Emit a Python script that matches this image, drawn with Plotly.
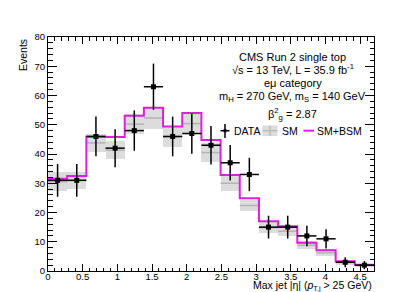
import numpy as np
import plotly.graph_objects as go

# ---- data ----
x_min, x_max, n_bins = 0.0, 4.7, 17
data = [31, 31, 46, 42, 48, 63, 46, 47, 43, 37, 33, 15, 15, 12, 11, 3, 2]
data_err = [5.6, 5.6, 6.8, 6.5, 6.9, 7.9, 6.8, 6.9, 6.6, 6.1, 5.7, 3.9, 3.9, 3.5, 3.3, 1.7, 1.4]
sm = [30.5, 31.0, 43.8, 41.3, 50.2, 52.3, 45.8, 50.4, 40.5, 30.0, 22.4, 14.8, 13.6, 8.8, 6.2, 2.9, 1.9]
sm_err = [3.3, 3.0, 3.2, 3.0, 3.5, 3.8, 3.5, 3.7, 3.2, 2.6, 2.0, 1.8, 1.7, 1.3, 1.2, 0.7, 0.5]
sm_bsm = [31.5, 32.5, 45.9, 45.8, 53.1, 55.8, 49.4, 54.0, 44.8, 32.8, 24.9, 17.0, 15.3, 9.7, 7.1, 3.3, 2.1]
x_ticks = [0, 0.5, 1, 1.5, 2, 2.5, 3, 3.5, 4, 4.5]
x_tick_labels = ["0", "0.5", "1", "1.5", "2", "2.5", "3", "3.5", "4", "4.5"]
y_ticks = [0, 10, 20, 30, 40, 50, 60, 70, 80]

edges = np.linspace(x_min, x_max, n_bins + 1)
centers = 0.5 * (edges[:-1] + edges[1:])
bw = edges[1] - edges[0]

FONT = "Liberation Sans, Arial, Helvetica, sans-serif"
MAGENTA = "#e01ee0"

fig = go.Figure()

# SM uncertainty band
fig.add_trace(go.Bar(
    x=centers, y=[2 * e for e in sm_err], base=[v - e for v, e in zip(sm, sm_err)],
    width=bw, marker=dict(color="#dcdcdc", line=dict(width=0)), showlegend=False,
    hoverinfo="skip"))

# SM central line (horizontal segments per bin)
sx, sy = [], []
for lo, hi, v in zip(edges[:-1], edges[1:], sm):
    sx += [lo, hi, None]
    sy += [v, v, None]
fig.add_trace(go.Scatter(x=sx, y=sy, mode="lines",
                         line=dict(color="#b4b4b4", width=1.5), showlegend=False))

# SM+BSM step histogram
fig.add_trace(go.Scatter(x=list(edges), y=sm_bsm + [sm_bsm[-1]], mode="lines",
                         line=dict(color=MAGENTA, width=2, shape="hv"), showlegend=False))

# Data
fig.add_trace(go.Scatter(
    x=centers, y=data, mode="markers",
    marker=dict(symbol="square", size=5, color="black"),
    error_y=dict(type="data", array=data_err, color="black", thickness=1.5, width=0),
    error_x=dict(type="data", array=[bw / 2] * n_bins, color="black", thickness=1.5, width=0),
    showlegend=False))

W, H = 407, 292
ml, mr, mt, mb = 40, 41, 29, 29
pw, ph = W - ml - mr, H - mt - mb


def px(xp):
    return (xp - ml) / pw


def py(yp):
    return 1 - (yp - mt) / ph


annotations = []
text_lines = [
    ("CMS Run 2 single top", 49),
    ("√s = 13 TeV, L = 35.9 fb<sup>-1</sup>", 61.5),
    ("eμ category", 75),
    ("m<sub>H</sub> = 270 GeV, m<sub>S</sub> = 140 GeV", 88.5),
    ("β<sup>2</sup><sub>g</sub> = 2.87", 106),
]
for t, yy in text_lines:
    annotations.append(dict(text=t, x=px(284.5), y=py(yy), xref="paper", yref="paper",
                            xanchor="center", yanchor="middle", showarrow=False,
                            font=dict(family=FONT, size=11, color="black")))

# custom legend
ly = 122.7
shapes = []
# DATA symbol
shapes.append(dict(type="line", xref="paper", yref="paper", x0=px(212.5), x1=px(221.5),
                   y0=py(ly), y1=py(ly), line=dict(color="black", width=1.5)))
shapes.append(dict(type="line", xref="paper", yref="paper", x0=px(217), x1=px(217),
                   y0=py(116), y1=py(130), line=dict(color="black", width=1.5)))
shapes.append(dict(type="rect", xref="paper", yref="paper", x0=px(215.5), x1=px(218.5),
                   y0=py(124.2), y1=py(121.2), fillcolor="black", line=dict(width=0)))
annotations.append(dict(text="DATA", x=px(224), y=py(ly), xref="paper", yref="paper",
                        xanchor="left", yanchor="middle", showarrow=False,
                        font=dict(family=FONT, size=10.5, color="black")))
# SM symbol
shapes.append(dict(type="rect", xref="paper", yref="paper", x0=px(254.5), x1=px(269.5),
                   y0=py(128), y1=py(117.5), fillcolor="#dcdcdc", line=dict(width=0)))
shapes.append(dict(type="line", xref="paper", yref="paper", x0=px(254.5), x1=px(269.5),
                   y0=py(ly), y1=py(ly), line=dict(color="#b4b4b4", width=1.2)))
shapes.append(dict(type="line", xref="paper", yref="paper", x0=px(262), x1=px(262),
                   y0=py(117.5), y1=py(128), line=dict(color="#b4b4b4", width=1.2)))
annotations.append(dict(text="SM", x=px(272), y=py(ly), xref="paper", yref="paper",
                        xanchor="left", yanchor="middle", showarrow=False,
                        font=dict(family=FONT, size=10.5, color="black")))
# SM+BSM symbol
shapes.append(dict(type="line", xref="paper", yref="paper", x0=px(295.5), x1=px(306),
                   y0=py(ly), y1=py(ly), line=dict(color=MAGENTA, width=2)))
annotations.append(dict(text="SM+BSM", x=px(307), y=py(ly), xref="paper", yref="paper",
                        xanchor="left", yanchor="middle", showarrow=False,
                        font=dict(family=FONT, size=10.5, color="black")))

# axis titles
annotations.append(dict(text="Max jet |η| (<i>p</i><sub>T,j</sub> > 25 GeV)", x=1, y=py(278),
                        xref="paper", yref="paper", xanchor="right", yanchor="middle",
                        showarrow=False, font=dict(family=FONT, size=10.5, color="black")))
annotations.append(dict(text="Events", x=px(15), y=1, xref="paper", yref="paper",
                        xanchor="center", yanchor="top", textangle=-90, showarrow=False,
                        font=dict(family=FONT, size=10.5, color="black")))

fig.update_layout(
    width=W, height=H, margin=dict(l=ml, r=mr, t=mt, b=mb),
    paper_bgcolor="white", plot_bgcolor="white",
    font=dict(family=FONT, size=10, color="black"),
    showlegend=False, bargap=0,
    annotations=annotations, shapes=shapes,
)
fig.update_xaxes(range=[x_min, x_max], tickmode="array", tickvals=x_ticks, ticktext=x_tick_labels,
                 ticks="inside", ticklen=7, tickwidth=1, tickcolor="black",
                 minor=dict(dtick=0.1, ticks="inside", ticklen=3.5, tickcolor="black", tickwidth=1),
                 showline=True, linecolor="black", linewidth=1, mirror="ticks",
                 ticklabelstandoff=-3,
                 showgrid=False, zeroline=False, tickfont=dict(family=FONT, size=9.5))
fig.update_yaxes(range=[0, 80], tickmode="array", tickvals=y_ticks,
                 ticks="inside", ticklen=9, tickwidth=1, tickcolor="black",
                 minor=dict(dtick=2, ticks="inside", ticklen=4.5, tickcolor="black", tickwidth=1),
                 showline=True, linecolor="black", linewidth=1, mirror="ticks",
                 showgrid=False, zeroline=False, tickfont=dict(family=FONT, size=9.5))

fig.write_html("out.html")
